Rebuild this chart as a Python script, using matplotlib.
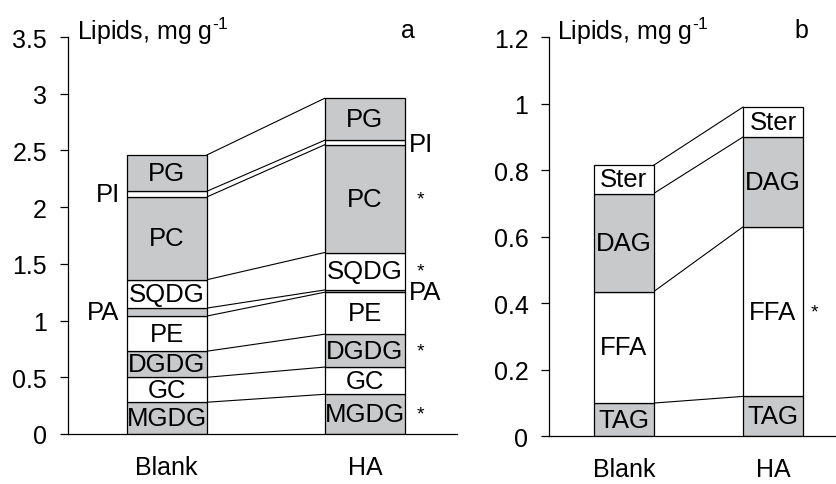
import numpy as np
from matplotlib import pyplot as plt

plt.rcParams["font.family"] = ["Liberation Sans", "DejaVu Sans"]
plt.rcParams["mathtext.fontset"] = "custom"
plt.rcParams["mathtext.rm"] = "Liberation Sans"
plt.rcParams["mathtext.it"] = "Liberation Sans"

GRAY = "#c8c9cb"

treatments = ["Blank", "HA"]

# panel a: polar + membrane lipids, stacked bottom to top
lipids_a = ["MGDG", "GC", "DGDG", "PE", "PA", "SQDG", "PC", "PI", "PG"]
blank_a = [0.28, 0.22, 0.23, 0.31, 0.07, 0.25, 0.73, 0.05, 0.32]
ha_a = [0.35, 0.24, 0.29, 0.37, 0.02, 0.33, 0.95, 0.04, 0.37]
gray_a = [True, False, True, False, True, False, True, False, True]
outside_a = ["PA", "PI"]
star_a = ["MGDG", "DGDG", "SQDG", "PC"]
yticks_a = [0, 0.5, 1, 1.5, 2, 2.5, 3, 3.5]
yticklabels_a = ["0", "0.5", "1", "1.5", "2", "2.5", "3", "3.5"]

# panel b: neutral lipids
lipids_b = ["TAG", "FFA", "DAG", "Ster"]
blank_b = [0.10, 0.335, 0.295, 0.085]
ha_b = [0.12, 0.51, 0.27, 0.09]
gray_b = [True, False, True, False]
outside_b = []
star_b = ["FFA"]
yticks_b = [0, 0.2, 0.4, 0.6, 0.8, 1, 1.2]
yticklabels_b = ["0", "0.2", "0.4", "0.6", "0.8", "1", "1.2"]

LABEL_SIZE = 18.5


def draw_panel(ax, lipids, blank, ha, gray, outside, stars, ymax, yticks,
               yticklabels, letter, xmax, width=0.405):
    data = [np.asarray(blank), np.asarray(ha)]
    tops = [np.cumsum(d) for d in data]
    unit = ymax / 3.5
    for i, (vals, top) in enumerate(zip(data, tops)):
        bottoms = top - vals
        for name, v, b, g in zip(lipids, vals, bottoms, gray):
            ax.bar(i, v, bottom=b, width=width, color=GRAY if g else "white",
                   edgecolor="black", linewidth=0.9, zorder=2)
            if name not in outside:
                ax.text(i, b + v / 2, name, ha="center", va="center",
                        fontsize=LABEL_SIZE, zorder=3)
        # outside labels for the thin bands
        for name in outside:
            k = lipids.index(name)
            yc = bottoms[k] + vals[k] / 2
            if i == 0:
                ax.text(i - width / 2 - 0.035, yc, name, ha="right",
                        va="center", fontsize=LABEL_SIZE)
            else:
                ax.text(i + width / 2 + 0.02, yc - 0.01 * unit, name,
                        ha="left", va="center", fontsize=LABEL_SIZE)
    # connector lines between stacks
    for t0, t1 in zip(tops[0], tops[1]):
        ax.plot([width / 2, 1 - width / 2], [t0, t1], color="black",
                linewidth=0.8, zorder=1)
    for name in stars:
        k = lipids.index(name)
        yc = tops[1][k] - data[1][k] / 2
        ax.text(1 + width / 2 + 0.08, yc, "*", ha="center",
                va="center", fontsize=14)

    ax.set_xlim(-0.5, xmax)
    ax.set_ylim(0, ymax)
    ax.set_yticks(yticks)
    ax.set_yticklabels(yticklabels)
    ax.set_xticks([0, 1])
    ax.set_xticklabels(treatments)
    ax.tick_params(axis="y", direction="out", length=6, width=0.9, pad=9,
                   labelsize=18)
    ax.tick_params(axis="x", length=0, pad=15, labelsize=18)
    for side in ["top", "right"]:
        ax.spines[side].set_visible(False)
    for side in ["left", "bottom"]:
        ax.spines[side].set_linewidth(0.9)
    ax.text(0.025, 0.995, r"Lipids, mg g$^{\text{-1}}$", transform=ax.transAxes,
            ha="left", va="baseline", fontsize=18)
    ax.text(0.875, 1.0, letter, transform=ax.transAxes, ha="center",
            va="baseline", fontsize=18)


fig = plt.figure(figsize=(8.37, 4.85), dpi=100)
ax_a = fig.add_axes([0.0809, 0.1031, 0.465, 0.8185])
ax_b = fig.add_axes([0.6563, 0.0983, 0.3437, 0.823])

draw_panel(ax_a, lipids_a, blank_a, ha_a, gray_a, outside_a, star_a, 3.5,
           yticks_a, yticklabels_a, "a", 1.465)
draw_panel(ax_b, lipids_b, blank_b, ha_b, gray_b, outside_b, star_b, 1.2,
           yticks_b, yticklabels_b, "b", 1.43, width=0.40)

fig.savefig("out.png", dpi=100)
